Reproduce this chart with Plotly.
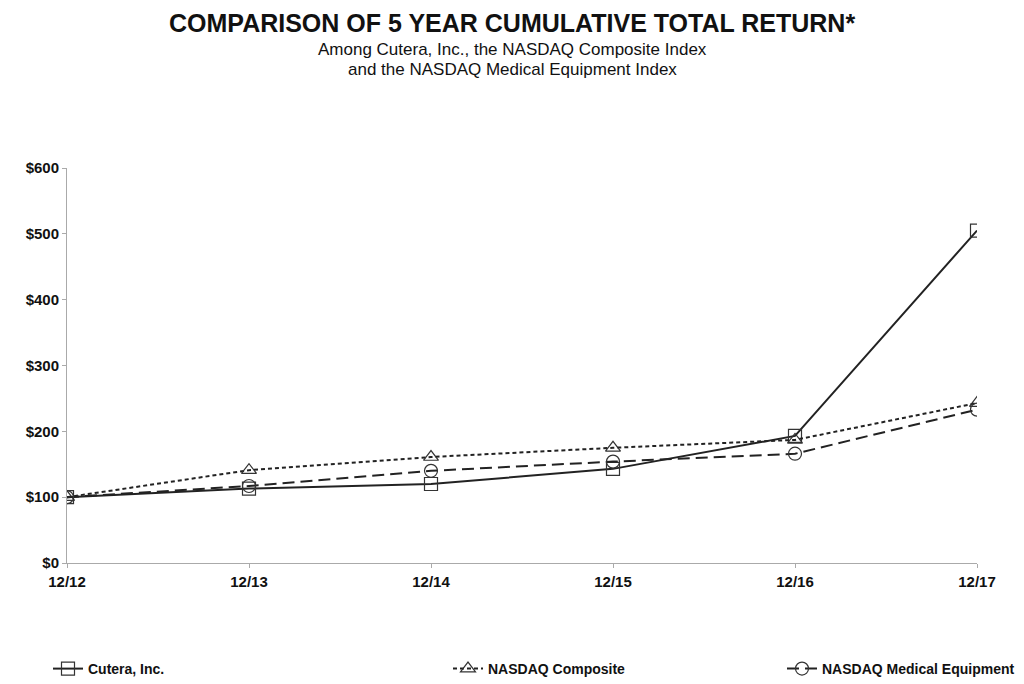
import plotly.graph_objects as go

periods = ["12/12", "12/13", "12/14", "12/15", "12/16", "12/17"]
cutera = [100, 113, 120, 143, 193, 505]
nasdaq_composite = [100, 141, 161, 175, 187, 243]
nasdaq_medical = [100, 117, 140, 154, 166, 233]
y_ticks = [0, 100, 200, 300, 400, 500, 600]
y_labels = ["$0", "$100", "$200", "$300", "$400", "$500", "$600"]

FONT = "Liberation Sans, Arial, sans-serif"
PLOT_W = 1024 - 67 - 47
PLOT_H = 684 - 168 - 121

def px_x(px):
    return (px - 67) / PLOT_W

def px_y(py):
    return (563 - py) / PLOT_H

fig = go.Figure()
fig.add_trace(go.Scatter(
    x=periods, y=cutera, name="Cutera, Inc.", mode="lines+markers", legend="legend",
    line=dict(color="#222222", width=2, dash="solid"),
    marker=dict(symbol="square-open", size=13, color="#333333", line=dict(width=1.2)),
))
fig.add_trace(go.Scatter(
    x=periods, y=nasdaq_composite, name="NASDAQ Composite", mode="lines+markers", legend="legend2",
    line=dict(color="#222222", width=2, dash="4px,3px"),
    marker=dict(symbol="triangle-up-open", size=13, color="#333333", line=dict(width=1.2)),
))
fig.add_trace(go.Scatter(
    x=periods, y=nasdaq_medical, name="NASDAQ Medical Equipment", mode="lines+markers", legend="legend3",
    line=dict(color="#222222", width=2, dash="12px,6px"),
    marker=dict(symbol="circle-open", size=13, color="#333333", line=dict(width=1.2)),
))

legend_common = dict(
    orientation="h", yanchor="middle", xanchor="left",
    font=dict(family=FONT, size=14, color="#111111", weight="bold"),
    bgcolor="rgba(0,0,0,0)", borderwidth=0, itemwidth=30,
)

fig.update_layout(
    width=1024, height=684,
    paper_bgcolor="white", plot_bgcolor="white",
    margin=dict(l=67, r=47, t=168, b=121, autoexpand=False),
    font=dict(family=FONT, color="#111111"),
    showlegend=True,
    legend=dict(legend_common, x=px_x(48), y=px_y(669)),
    legend2=dict(legend_common, x=px_x(448), y=px_y(669)),
    legend3=dict(legend_common, x=px_x(782), y=px_y(669)),
    xaxis=dict(
        type="category", range=[0, 5], showgrid=False, zeroline=False,
        showline=True, linecolor="#aaaaaa", linewidth=1,
        ticks="outside", ticklen=4, tickcolor="#aaaaaa",
        ticklabelstandoff=1,
        tickfont=dict(family=FONT, size=15, color="#111111", weight="bold"),
    ),
    yaxis=dict(
        range=[0, 600], tickvals=y_ticks, ticktext=y_labels, showgrid=False, zeroline=False,
        showline=True, linecolor="#aaaaaa", linewidth=1,
        ticks="outside", ticklen=4, tickcolor="#aaaaaa",
        tickfont=dict(family=FONT, size=15, color="#111111", weight="bold"),
    ),
)
fig.add_annotation(text="<b>COMPARISON OF 5 YEAR CUMULATIVE TOTAL RETURN*</b>",
                   x=px_x(512), xref="paper", y=px_y(23), yref="paper", yanchor="middle",
                   showarrow=False, font=dict(family=FONT, size=25, color="#111111"))
fig.add_annotation(text="Among Cutera, Inc., the NASDAQ Composite Index",
                   x=px_x(512), xref="paper", y=px_y(50), yref="paper", yanchor="middle",
                   showarrow=False, font=dict(family=FONT, size=17, color="#111111"))
fig.add_annotation(text="and the NASDAQ Medical Equipment Index",
                   x=px_x(512), xref="paper", y=px_y(69), yref="paper", yanchor="middle",
                   showarrow=False, font=dict(family=FONT, size=17, color="#111111"))

fig.write_html("out.html")
